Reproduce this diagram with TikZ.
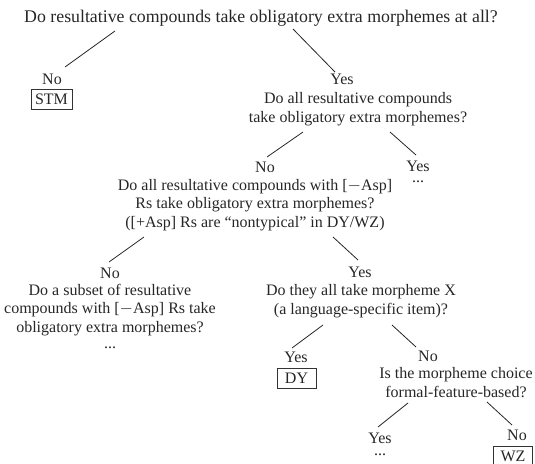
\documentclass[tikz,border=0pt]{standalone}
\usepackage{fontspec}
\setmainfont{Liberation Serif}
\usetikzlibrary{positioning}

\begin{document}
\begin{tikzpicture}[x=1pt, y=-1pt]
  \tikzstyle{txt} = [inner sep=0pt, align=center, anchor=base, text=black!85, font=\fontsize{16}{18.5}\selectfont]
  \tikzstyle{leaf} = [txt, draw=black!80, line width=0.9pt, text height=11pt, text depth=1pt, inner sep=4pt, minimum width=39pt]
  \tikzstyle{branch} = [line width=0.8pt, draw=black!85]

  \useasboundingbox (0,0) rectangle (535,463);

  % questions (base = last line)
  \node[txt, font=\fontsize{17.8}{20}\selectfont] (q0) at (261,23) {Do resultative compounds take obligatory extra morphemes at all?};
  \node[txt] (q1) at (358,122) {Do all resultative compounds\\take obligatory extra morphemes?};
  \node[txt] (q2) at (255,227) {Do all resultative compounds with [$-$Asp]\\Rs take obligatory extra morphemes?\\([+Asp] Rs are ``nontypical'' in DY/WZ)};
  \node[txt] (q3) at (110,332) {Do a subset of resultative\\compounds with [$-$Asp] Rs take\\obligatory extra morphemes?};
  \node[txt] (q4) at (361,314) {Do they all take morpheme X\\(a language-specific item)?};
  \node[txt] (q5) at (456,397) {Is the morpheme choice\\formal-feature-based?};

  % answers
  \node[txt] (no1) at (52,84) {No};
  \node[txt] (yes1) at (342,84) {Yes};
  \node[txt] (no2) at (265,172) {No};
  \node[txt] (yes2) at (418,171) {Yes};
  \node[txt] (no3) at (110,278) {No};
  \node[txt] (yes3) at (360,277) {Yes};
  \node[txt] (yes4) at (296,362) {Yes};
  \node[txt] (no4) at (428,361) {No};
  \node[txt] (yes5) at (380,443) {Yes};
  \node[txt] (no5) at (517,440) {No};

  % open ends
  \node[txt, text height=2pt] (dots2) at (418,182) {...};
  \node[txt, text height=2pt] (dots3) at (110,348) {...};
  \node[txt, text height=2pt] (dots5) at (380,455) {...};

  % languages
  \node[leaf] (stm) at (51.5,104) {STM};
  \node[leaf] (dy) at (296.5,383) {DY};
  \node[leaf] (wz) at (513,461) {WZ};

  % branches
  \coordinate (q0l) at (115,31);  \coordinate (no1t) at (65,67);
  \coordinate (q0r) at (293,29);  \coordinate (yes1t) at (335,72);
  \coordinate (q1l) at (303,132); \coordinate (no2t) at (267,157);
  \coordinate (q1r) at (390,132); \coordinate (yes2t) at (416,155);
  \coordinate (q2l) at (144,237); \coordinate (no3t) at (109,262);
  \coordinate (q2r) at (333,237); \coordinate (yes3t) at (358,260);
  \coordinate (q4l) at (323,325); \coordinate (yes4t) at (292,348);
  \coordinate (q4r) at (392,325); \coordinate (no4t) at (416,347);
  \coordinate (q5l) at (408,403); \coordinate (yes5t) at (378,427);
  \coordinate (q5r) at (487,402); \coordinate (no5t) at (512,425);
  \foreach \a/\b in {q0l/no1t, q0r/yes1t, q1l/no2t, q1r/yes2t, q2l/no3t,
                     q2r/yes3t, q4l/yes4t, q4r/no4t, q5l/yes5t, q5r/no5t}
    \draw[branch] (\a) -- (\b);
\end{tikzpicture}
\end{document}
